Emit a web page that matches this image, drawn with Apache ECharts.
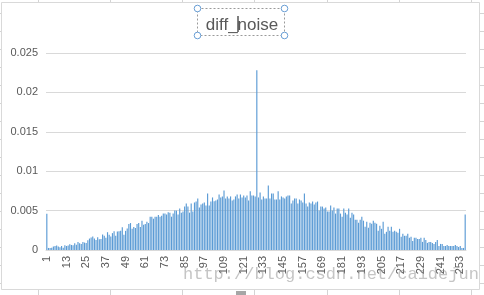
<!DOCTYPE html>
<html>
<head>
<meta charset="utf-8">
<script src="https://cdn.jsdelivr.net/npm/echarts@6/dist/echarts.min.js"></script>
<style>
html,body{margin:0;padding:0;background:#fff;}
#c{width:484px;height:295px;}
</style>
</head>
<body>
<div id="c"></div>
<script>
const titleText = 'diff_noise';
const watermark = 'http://blog.csdn.net/caidejun';
const categories = [
'1','2','3','4','5','6','7','8','9','10','11','12','13','14','15','16','17','18','19','20',
'21','22','23','24','25','26','27','28','29','30','31','32','33','34','35','36','37','38','39','40',
'41','42','43','44','45','46','47','48','49','50','51','52','53','54','55','56','57','58','59','60',
'61','62','63','64','65','66','67','68','69','70','71','72','73','74','75','76','77','78','79','80',
'81','82','83','84','85','86','87','88','89','90','91','92','93','94','95','96','97','98','99','100',
'101','102','103','104','105','106','107','108','109','110','111','112','113','114','115','116','117','118','119','120',
'121','122','123','124','125','126','127','128','129','130','131','132','133','134','135','136','137','138','139','140',
'141','142','143','144','145','146','147','148','149','150','151','152','153','154','155','156','157','158','159','160',
'161','162','163','164','165','166','167','168','169','170','171','172','173','174','175','176','177','178','179','180',
'181','182','183','184','185','186','187','188','189','190','191','192','193','194','195','196','197','198','199','200',
'201','202','203','204','205','206','207','208','209','210','211','212','213','214','215','216','217','218','219','220',
'221','222','223','224','225','226','227','228','229','230','231','232','233','234','235','236','237','238','239','240',
'241','242','243','244','245','246','247','248','249','250','251','252','253','254','255','256'
];
const yMin = 0, yMax = 0.025, yStep = 0.005;
// values for categories 1..64
const noiseA = [
0.0046,0.00026,0.00026,0.0003,0.00043,0.00051,0.00056,0.00043,0.00034,0.00051,
0.0003,0.0006,0.00051,0.00056,0.00073,0.00064,0.0006,0.00085,0.00068,0.001,
0.00085,0.00077,0.001,0.00094,0.0009,0.00124,0.00145,0.00158,0.00171,0.00145,
0.00128,0.00162,0.00137,0.00141,0.00197,0.0018,0.00154,0.00226,0.00192,0.00171,
0.00214,0.00239,0.0018,0.00235,0.00239,0.00243,0.0029,0.00192,0.00243,0.00273,
0.00329,0.00342,0.00269,0.00291,0.00278,0.00329,0.00342,0.00291,0.00372,0.00321,
0.00329,0.00359,0.00342,0.00423
];
// values for categories 65..128
const noiseB = [
0.00423,0.00397,0.00423,0.00423,0.00444,0.00423,0.00436,0.00462,0.00462,0.00449,
0.00479,0.00474,0.00423,0.00462,0.005,0.005,0.00449,0.00526,0.00474,0.00487,
0.00551,0.0059,0.00551,0.00474,0.0059,0.00487,0.00603,0.00615,0.00654,0.00538,
0.00577,0.0059,0.00603,0.00564,0.00718,0.00564,0.00615,0.00667,0.0062,0.00628,
0.00641,0.00705,0.00667,0.0068,0.00756,0.00654,0.0068,0.00654,0.0068,0.00628,
0.00641,0.0068,0.00705,0.00654,0.00705,0.00667,0.00692,0.00667,0.00692,0.00628,
0.00744,0.00692,0.00692,0.0068
];
// values for categories 129..192
const noiseC = [
0.0228,0.00667,0.00731,0.00641,0.0068,0.00654,0.00654,0.0082,0.00654,0.00718,
0.00718,0.00641,0.00641,0.00744,0.00641,0.0068,0.00667,0.00654,0.0068,0.00692,
0.00692,0.0059,0.00628,0.00654,0.00654,0.0059,0.00641,0.00628,0.00603,0.00718,
0.0059,0.00551,0.00603,0.0059,0.00615,0.00577,0.00603,0.00615,0.005,0.00551,
0.00551,0.00526,0.00538,0.00487,0.00487,0.00564,0.005,0.00538,0.00462,0.00526,
0.00526,0.00462,0.00423,0.00526,0.00474,0.00449,0.00526,0.0041,0.00474,0.00449,
0.00385,0.00385,0.00346,0.00385
];
// values for categories 193..256
const noiseD = [
0.00423,0.00372,0.00295,0.00359,0.00282,0.00346,0.00333,0.00372,0.00346,0.00333,
0.00244,0.00308,0.00269,0.00359,0.00205,0.00231,0.00295,0.00244,0.00295,0.00231,
0.00244,0.00231,0.00218,0.00269,0.00167,0.00205,0.0018,0.0018,0.00205,0.00154,
0.00167,0.00115,0.00154,0.00154,0.00141,0.00141,0.00154,0.00103,0.00154,0.00128,
0.0009,0.00103,0.00103,0.0009,0.00077,0.00103,0.00128,0.00051,0.00077,0.00077,
0.00051,0.00051,0.00064,0.00051,0.00051,0.00051,0.00051,0.00064,0.00051,0.00038,
0.00051,0.00026,0.00026,0.00449
];
const noise = noiseA.concat(noiseB, noiseC, noiseD);

const cellCols = [38, 110, 182, 254, 327, 399, 471];
const cellRows = [13, 31, 49, 67, 85, 103, 121, 139, 157, 175, 193, 211, 229, 247, 265, 283];

const chart = echarts.init(document.getElementById('c'), null, {renderer: 'canvas'});

const graphics = [];
graphics.push({type:'rect', shape:{x:1.5, y:2.5, width:478, height:287}, style:{fill:'none', stroke:'#d9d9d9', lineWidth:1}, z:0, silent:true});
cellCols.forEach(x => {
  graphics.push({type:'line', shape:{x1:x+0.5, y1:0, x2:x+0.5, y2:2}, style:{stroke:'#d4d4d4', lineWidth:1}, silent:true});
  graphics.push({type:'line', shape:{x1:x+0.5, y1:290, x2:x+0.5, y2:295}, style:{stroke:'#d4d4d4', lineWidth:1}, silent:true});
});
cellRows.forEach(y => {
  graphics.push({type:'line', shape:{x1:480, y1:y+0.5, x2:484, y2:y+0.5}, style:{stroke:'#d4d4d4', lineWidth:1}, silent:true});
  graphics.push({type:'line', shape:{x1:0, y1:y+0.5, x2:1, y2:y+0.5}, style:{stroke:'#d4d4d4', lineWidth:1}, silent:true});
});
graphics.push({type:'rect', shape:{x:236, y:291, width:10, height:4}, style:{fill:'#a6a6a6'}, silent:true});
graphics.push({type:'rect', shape:{x:197.5, y:8.5, width:87, height:27}, style:{fill:'none', stroke:'#9a9a9a', lineWidth:1, lineDash:[2,2]}, silent:true, z:5});
[[197.5,8.5],[284.5,8.5],[197.5,35.5],[284.5,35.5]].forEach(p => {
  graphics.push({type:'circle', shape:{cx:p[0], cy:p[1], r:3.3}, style:{fill:'#fff', stroke:'#6a9fd6', lineWidth:1}, silent:true, z:6});
});
graphics.push({type:'line', shape:{x1:238, y1:16, x2:238, y2:32}, style:{stroke:'#000', lineWidth:1}, silent:true, z:7});
graphics.push({type:'text', x:183, y:274, style:{text:watermark, font:'17px "Liberation Mono", monospace', fill:'rgba(140,140,140,0.5)', textVerticalAlign:'middle', verticalAlign:'middle'}, silent:true, z:10});

chart.setOption({
  animation: false,
  backgroundColor: '#ffffff',
  title: {
    text: titleText,
    left: 'center',
    top: 12,
    textStyle: {color:'#595959', fontSize:17, fontWeight:'normal', fontFamily:'"Liberation Sans", Arial, sans-serif'}
  },
  grid: {left:46, right:18, top:53, bottom:45, containLabel:false},
  xAxis: {
    type: 'category',
    data: categories,
    axisLine: {show:true, lineStyle:{color:'#d9d9d9', width:1}},
    axisTick: {show:false},
    axisLabel: {interval:11, rotate:90, margin:6, color:'#595959', fontSize:11, fontFamily:'"Liberation Sans", Arial, sans-serif'},
    splitLine: {show:false}
  },
  yAxis: {
    type: 'value',
    min: yMin, max: yMax, interval: yStep,
    axisLine: {show:false},
    axisTick: {show:false},
    axisLabel: {margin:8, color:'#595959', fontSize:11, fontFamily:'"Liberation Sans", Arial, sans-serif'},
    splitLine: {lineStyle:{color:'#d9d9d9', width:1}}
  },
  series: [{
    type: 'bar',
    data: noise,
    barCategoryGap: '30%',
    itemStyle: {color:'#5b9bd5'},
    silent: true
  }],
  graphic: graphics
});
</script>
</body>
</html>
